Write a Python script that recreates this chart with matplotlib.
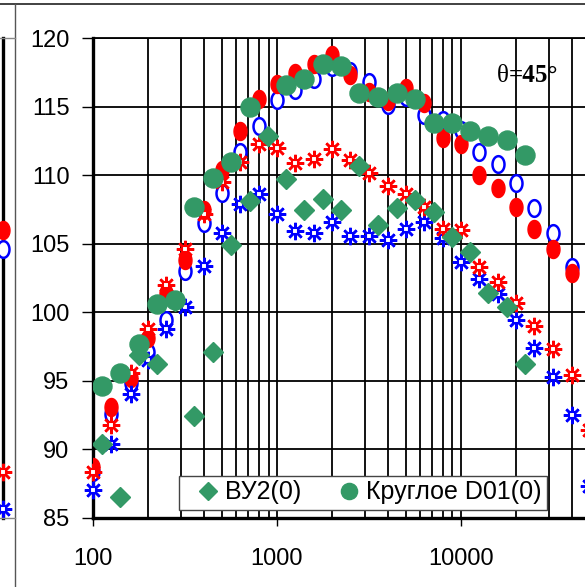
import numpy as np
import matplotlib
matplotlib.use('Agg')
import matplotlib.pyplot as plt
from matplotlib.path import Path
from matplotlib.lines import Line2D

plt.rcParams['font.family'] = ['Liberation Sans', 'DejaVu Sans']

# 1/3-octave frequencies (red / blue series)
freq_nom = [100, 125, 160, 200, 250, 315, 400, 500, 630, 800, 1000, 1250, 1600, 2000,
            2500, 3150, 4000, 5000, 6300, 8000, 10000, 12500, 16000, 20000, 25000,
            31500, 40000, 50000]
# green series are plotted slightly shifted
freq_green = [112, 140, 178, 224, 280, 355, 447, 560, 710, 890, 1120, 1400, 1780, 2240,
              2800, 3550, 4470, 5600, 7100, 8900, 11200, 14000, 17800, 22400]

red_circle = [88.7, 93.1, 95.2, 98.1, 101.4, 103.8, 107.5, 110.4, 113.2, 115.6, 116.7,
              117.5, 118.1, 118.8, 117.3, 116.1, 115.4, 116.4, 115.3, 112.7, 112.3, 110.0,
              109.1, 107.7, 106.1, 104.6, 102.9]
blue_circle = [88.3, 92.6, 94.8, 97.1, 99.4, 103.0, 106.5, 108.7, 111.7, 113.6, 115.5,
               116.2, 117.0, 117.9, 117.6, 116.8, 115.1, 115.7, 114.4, 114.0, 113.3, 111.7,
               110.8, 109.4, 107.6, 105.8, 103.3]
red_star = [88.3, 91.8, 95.6, 98.8, 102.0, 104.6, 107.2, 109.5, 111.0, 112.3, 112.0, 110.9,
            111.2, 111.9, 111.1, 110.2, 109.2, 108.6, 107.7, 106.1, 106.0, 103.3, 102.2,
            100.7, 99.0, 97.3, 95.4, 91.4]
blue_star = [87.0, 90.4, 94.0, 96.5, 98.8, 100.4, 103.4, 105.8, 107.9, 108.6, 107.2, 105.9,
             105.8, 106.6, 105.6, 105.6, 105.3, 106.1, 106.6, 105.4, 103.7, 102.4, 101.3,
             99.4, 97.4, 95.3, 92.5, 87.3]
vu2 = [90.4, 86.5, 96.9, 96.2, 100.8, 92.4, 97.1, 104.9, 108.1, 112.9, 109.7, 107.5, 108.3,
       107.5, 110.7, 106.4, 107.6, 108.2, 107.3, 105.5, 104.4, 101.4, 100.4, 96.2]
round_d01 = [94.6, 95.6, 97.7, 100.6, 100.9, 107.7, 109.8, 111.0, 115.0, np.nan, 116.6,
             117.0, 118.1, 118.0, 116.0, 115.7, 116.0, 115.6, 113.8, 113.8, 113.2, 112.9,
             112.6, 111.5]

# last points of the neighbouring panel (cut off at the left edge)
left_freq = 40000
left_red_circle = 106.0
left_blue_circle = 104.6
left_red_star = 88.3
left_blue_star = 85.6

RED = '#FF0000'
BLUE = '#0000FF'
GREEN = '#339966'

W, H = 585, 587
fig = plt.figure(figsize=(W / 100, H / 100), dpi=100)


def fx(x):
    return x / W


def fy(y):
    return 1 - y / H


# tall ellipse marker
t = np.linspace(0, 2 * np.pi, 41)
ellipse = Path(np.column_stack([0.72 * np.cos(t), np.sin(t)]), closed=True)

x_left, x_right = 93, 604
y_top, y_bot = 38.3, 517.7
ax = fig.add_axes([fx(x_left), fy(y_bot), (x_right - x_left) / W, (y_bot - y_top) / H])
ax.set_xscale('log')
ax.set_xlim(100, 60000)
ax.set_ylim(85, 120)


def star(a, x, y, color):
    a.plot(x, y, ls='none', marker=(8, 2, 0), ms=12.5, mew=1.8, color=color, zorder=4, clip_on=False)
    a.plot(x, y, ls='none', marker='s', ms=4.5, mew=1.5, mec=color, mfc='white', zorder=4, clip_on=False)


ax.plot(freq_nom[:len(blue_circle)], blue_circle, ls='none', marker=ellipse, ms=12,
        mfc='white', mec=BLUE, mew=1.8, zorder=3)
ax.plot(freq_nom[:len(red_circle)], red_circle, ls='none', marker=ellipse, ms=13,
        mfc=RED, mec=RED, zorder=3)
star(ax, freq_nom, blue_star, BLUE)
star(ax, freq_nom, red_star, RED)
h1, = ax.plot(freq_green, vu2, ls='none', marker='D', ms=10.2, color=GREEN, zorder=5,
              label='ВУ2(0)')
h2, = ax.plot(freq_green, round_d01, ls='none', marker='o', ms=13.7, color=GREEN, zorder=6,
              label='Круглое D01(0)')

ax.set_yticks(np.arange(85, 121, 5))
ax.set_xticks([100, 1000, 10000])
ax.set_xticklabels(['100', '1000', '10000'])
ax.grid(True, which='both', axis='x', color='black', lw=1.3)
ax.grid(True, which='major', axis='y', color='black', lw=1.3)
ax.set_axisbelow(True)
ax.tick_params(axis='y', which='major', direction='out', length=8, width=1, pad=9, labelsize=17)
ax.tick_params(axis='x', which='major', direction='out', length=6, width=1, pad=16, labelsize=17)
ax.tick_params(axis='x', which='minor', length=0)
for s in ['left', 'bottom']:
    ax.spines[s].set_linewidth(2.4)
ax.spines['top'].set_linewidth(1.3)

ax.text(fx(509), fy(82), 'θ', transform=fig.transFigure, ha='right', va='baseline',
        family='Liberation Serif', fontsize=18)
ax.text(fx(509), fy(82), '=45°', transform=fig.transFigure, ha='left', va='baseline',
        family='Liberation Serif', fontsize=18, weight='bold')

leg = ax.legend(handles=[h1, h2], ncol=2, loc='center left',
                bbox_to_anchor=(fx(179), fy(492.5)), bbox_transform=fig.transFigure,
                fontsize=18, frameon=True, fancybox=False, framealpha=1,
                edgecolor='#444444', handlelength=1.9, handletextpad=-0.25,
                columnspacing=0.95, borderpad=0.2, borderaxespad=0, markerscale=0.85)
leg.get_frame().set_linewidth(1.0)
leg.set_zorder(10)

# neighbouring panel on the left (mostly cut off)
axl = fig.add_axes([fx(-400), fy(y_bot), 403 / W, (y_bot - y_top) / H])
axl.set_xscale('log')
axl.set_xlim(100, left_freq)
axl.set_ylim(85, 120)
axl.axis('off')
axl.plot([left_freq, left_freq], [85, 120], color='black', lw=2.4, clip_on=False)
axl.plot(left_freq, left_blue_circle, ls='none', marker=ellipse, ms=12, mfc='white',
         mec=BLUE, mew=1.8, clip_on=False)
axl.plot(left_freq, left_red_circle, ls='none', marker=ellipse, ms=13, color=RED, clip_on=False)
star(axl, left_freq, left_blue_star, BLUE)
star(axl, left_freq, left_red_star, RED)

# chart frame lines
fig.add_artist(Line2D([0, 1], [fy(4), fy(4)], color='#333333', lw=1.3))
fig.add_artist(Line2D([fx(14.5), fx(14.5)], [0, fy(4)], color='#555555', lw=1.0))
fig.add_artist(Line2D([0, fx(14.5)], [fy(37.5), fy(37.5)], color='#888888', lw=1.0))
fig.add_artist(Line2D([0, fx(14.5)], [fy(518), fy(518)], color='#888888', lw=1.0))

fig.savefig('out.png', dpi=100)
